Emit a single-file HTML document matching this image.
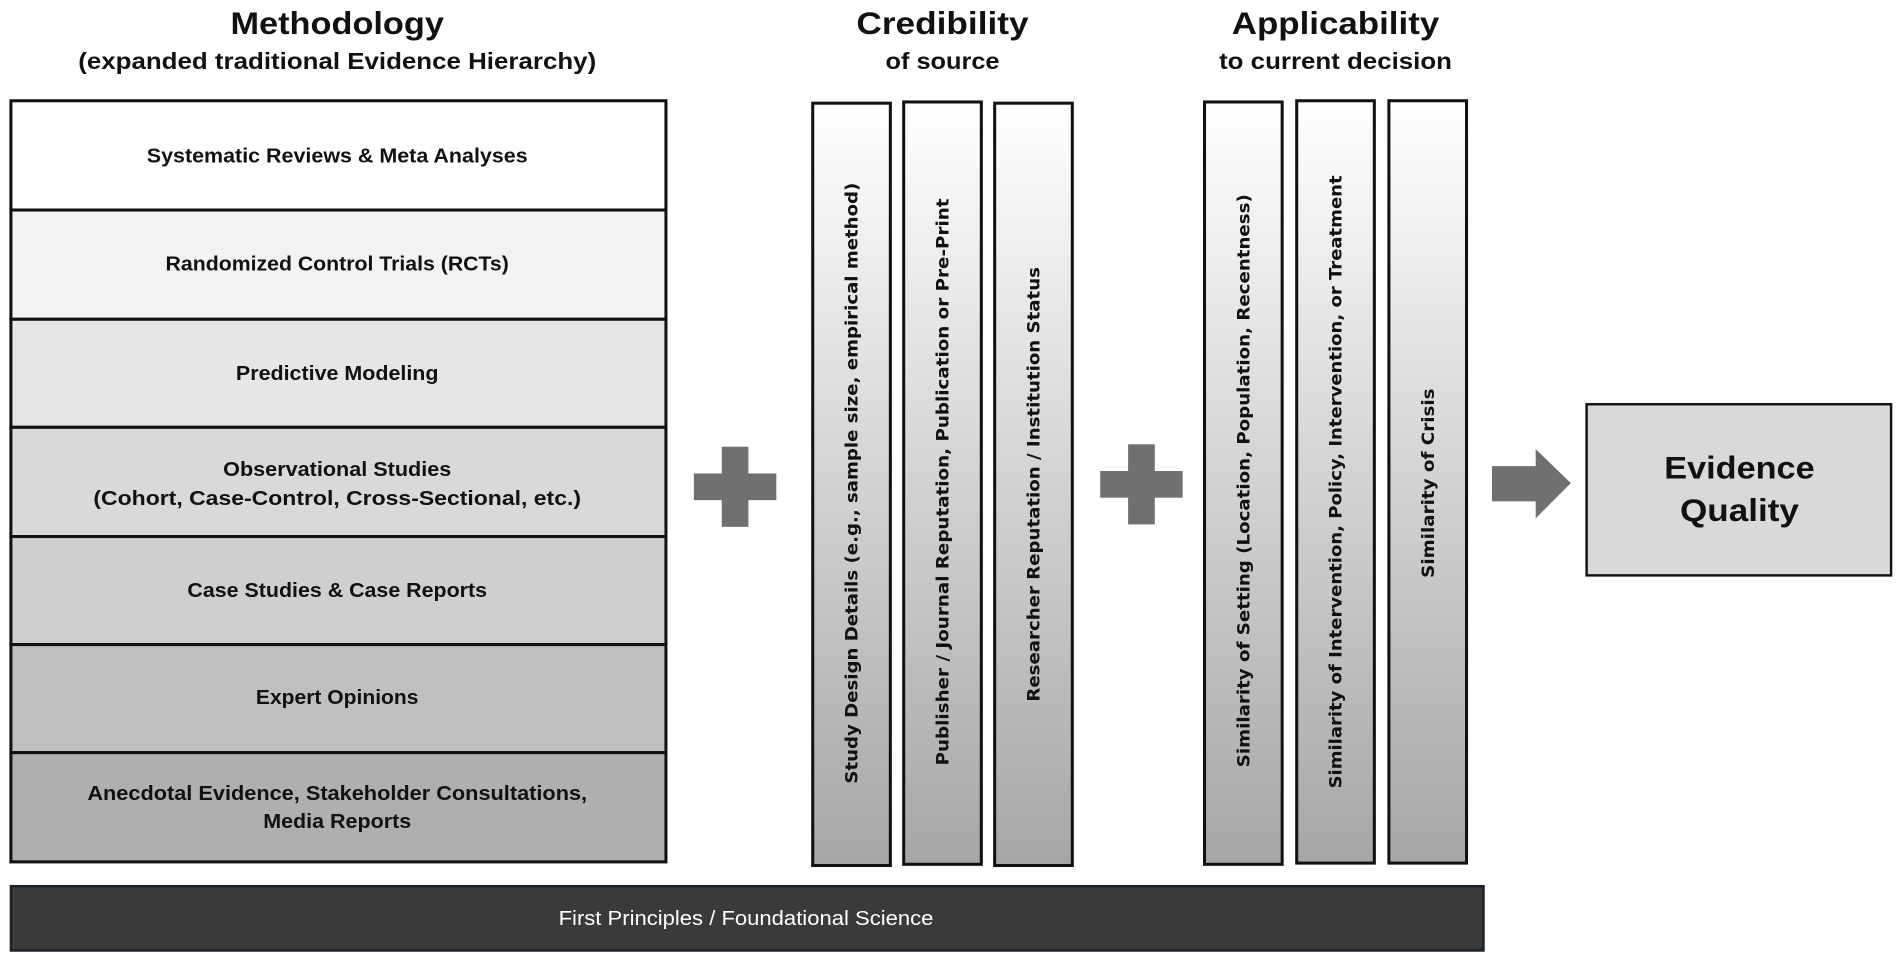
<!DOCTYPE html>
<html><head><meta charset="utf-8"><style>html,body{margin:0;padding:0;background:#fff;overflow:hidden}</style></head>
<body>
<svg width="1902" height="959" viewBox="0 0 1568 790" preserveAspectRatio="none" xmlns="http://www.w3.org/2000/svg">
<defs>
<linearGradient id="g" x1="0" y1="0" x2="0" y2="1">
<stop offset="0" stop-color="#ffffff"/><stop offset="1" stop-color="#a6a6a6"/>
</linearGradient>
</defs>
<g font-family="Liberation Sans, sans-serif" font-weight="bold" fill="#111" text-anchor="middle">
<text x="278" y="28" font-size="26" textLength="176" lengthAdjust="spacingAndGlyphs">Methodology</text>
<text x="278" y="57" font-size="19" textLength="427" lengthAdjust="spacingAndGlyphs">(expanded traditional Evidence Hierarchy)</text>
<text x="777" y="28" font-size="26" textLength="142" lengthAdjust="spacingAndGlyphs">Credibility</text>
<text x="777" y="57" font-size="19" textLength="94" lengthAdjust="spacingAndGlyphs">of source</text>
<text x="1101" y="28" font-size="26" textLength="171" lengthAdjust="spacingAndGlyphs">Applicability</text>
<text x="1101" y="57" font-size="19" textLength="192" lengthAdjust="spacingAndGlyphs">to current decision</text>
</g>
<g stroke="#111" stroke-width="2.5">
<rect x="9" y="83" width="540" height="90" fill="#ffffff"/>
<rect x="9" y="173" width="540" height="90" fill="#f2f2f2"/>
<rect x="9" y="263" width="540" height="89" fill="#e6e6e6"/>
<rect x="9" y="352" width="540" height="90" fill="#d9d9d9"/>
<rect x="9" y="442" width="540" height="89" fill="#cfcfcf"/>
<rect x="9" y="531" width="540" height="89" fill="#bfbfbf"/>
<rect x="9" y="620" width="540" height="90" fill="#afafaf"/>
</g>
<g font-family="Liberation Sans, sans-serif" font-weight="bold" fill="#111" text-anchor="middle" font-size="17">
<text x="278" y="134" textLength="314" lengthAdjust="spacingAndGlyphs">Systematic Reviews &amp; Meta Analyses</text>
<text x="278" y="223" textLength="283" lengthAdjust="spacingAndGlyphs">Randomized Control Trials (RCTs)</text>
<text x="278" y="313" textLength="167" lengthAdjust="spacingAndGlyphs">Predictive Modeling</text>
<text x="278" y="392" textLength="188" lengthAdjust="spacingAndGlyphs">Observational Studies</text>
<text x="278" y="416" textLength="402" lengthAdjust="spacingAndGlyphs">(Cohort, Case-Control, Cross-Sectional, etc.)</text>
<text x="278" y="492" textLength="247" lengthAdjust="spacingAndGlyphs">Case Studies &amp; Case Reports</text>
<text x="278" y="580" textLength="134" lengthAdjust="spacingAndGlyphs">Expert Opinions</text>
<text x="278" y="659" textLength="412" lengthAdjust="spacingAndGlyphs">Anecdotal Evidence, Stakeholder Consultations,</text>
<text x="278" y="682" textLength="122" lengthAdjust="spacingAndGlyphs">Media Reports</text>
</g>
<g fill="#707070">
<rect x="595" y="368" width="22" height="66"/><rect x="572" y="390" width="68" height="22"/>
<rect x="930" y="366" width="22" height="66"/><rect x="907" y="388" width="68" height="22"/>
<polygon points="1230,384 1266,384 1266,370 1295,398 1266,427 1266,413 1230,413"/>
</g>
<g stroke="#111" stroke-width="2.5" fill="url(#g)">
<rect x="670" y="85" width="64" height="628"/>
<rect x="745" y="84" width="64" height="628"/>
<rect x="820" y="85" width="64" height="628"/>
<rect x="993" y="84" width="64" height="628"/>
<rect x="1069" y="83" width="64" height="628"/>
<rect x="1145" y="83" width="64" height="628"/>
</g>
<g font-family="DejaVu Sans, sans-serif" font-weight="bold" fill="#111" text-anchor="middle" font-size="14">
<text transform="translate(707,398) rotate(-90)" textLength="495" lengthAdjust="spacingAndGlyphs">Study Design Details (e.g., sample size, empirical method)</text>
<text transform="translate(782,397) rotate(-90)" textLength="467" lengthAdjust="spacingAndGlyphs">Publisher / Journal Reputation, Publication or Pre-Print</text>
<text transform="translate(857,399) rotate(-90)" textLength="358" lengthAdjust="spacingAndGlyphs">Researcher Reputation / Institution Status</text>
<text transform="translate(1030,396) rotate(-90)" textLength="472" lengthAdjust="spacingAndGlyphs">Similarity of Setting (Location, Population, Recentness)</text>
<text transform="translate(1106,397) rotate(-90)" textLength="505" lengthAdjust="spacingAndGlyphs">Similarity of Intervention, Policy, Intervention, or Treatment</text>
<text transform="translate(1182,398) rotate(-90)" textLength="156" lengthAdjust="spacingAndGlyphs">Similarity of Crisis</text>
</g>
<rect x="1308" y="333" width="251" height="141" fill="#d9d9d9" stroke="#111" stroke-width="2"/>
<g font-family="Liberation Sans, sans-serif" font-weight="bold" fill="#111" text-anchor="middle" font-size="26">
<text x="1434" y="394" textLength="124" lengthAdjust="spacingAndGlyphs">Evidence</text>
<text x="1434" y="429" textLength="98" lengthAdjust="spacingAndGlyphs">Quality</text>
</g>
<rect x="9" y="730" width="1214" height="53" fill="#3a3a3a" stroke="#1a2028" stroke-width="2"/>
<text x="615" y="762" font-family="Liberation Sans, sans-serif" font-size="17" fill="#fff" text-anchor="middle" textLength="309" lengthAdjust="spacingAndGlyphs">First Principles / Foundational Science</text>
</svg>
</body></html>
